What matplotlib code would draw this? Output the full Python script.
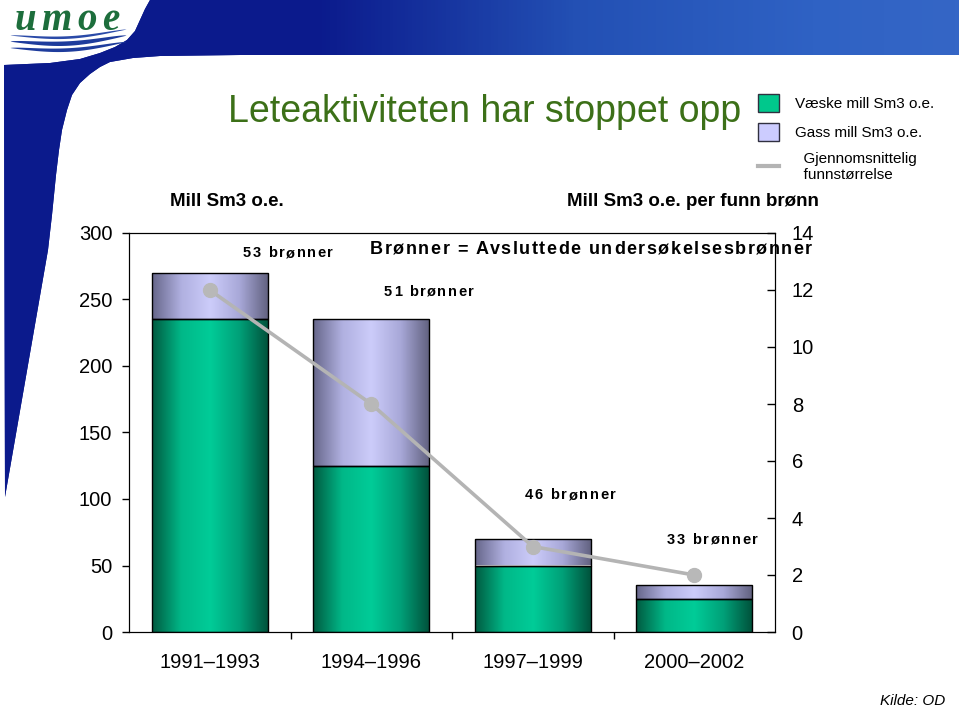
import numpy as np
import matplotlib
matplotlib.use('Agg')
import matplotlib.pyplot as plt
from matplotlib import font_manager
from matplotlib.colors import LinearSegmentedColormap
from matplotlib.patches import Polygon, Patch
from matplotlib.lines import Line2D

# data
periods = ['1991\u20131993', '1994\u20131996', '1997\u20131999', '2000\u20132002']
liquid = [235, 125, 50, 25]      # Væske mill Sm3 o.e.
gas = [35, 110, 20, 10]          # Gass mill Sm3 o.e.
avg_size = [12.0, 8.0, 3.0, 2.0] # mill Sm3 o.e. per funn
wells = [53, 51, 46, 33]

W, H = 959, 708
plt.rcParams['font.family'] = ['Liberation Sans', 'DejaVu Sans']
names = {f.name for f in font_manager.fontManager.ttflist}
if 'Liberation Sans Narrow' in names:
    title_family, title_size = ['Liberation Sans Narrow', 'DejaVu Sans'], 32
else:
    title_family, title_size = ['Liberation Sans', 'DejaVu Sans'], 27

fig = plt.figure(figsize=(W / 100, H / 100), dpi=100)

# background layer in pixel coordinates (y down)
bg = fig.add_axes([0, 0, 1, 1])
bg.set_xlim(0, W)
bg.set_ylim(H, 0)
bg.axis('off')

shape = [(150, 0), (959, 0), (959, 55), (240, 55), (160, 56), (133, 58), (110, 62),
         (100, 67), (90, 74), (80, 83), (72, 95), (67, 110), (62, 130), (59, 150),
         (56, 175), (52, 215), (48, 250), (5, 497), (4, 65), (50, 63), (80, 59),
         (100, 53), (115, 47), (127, 40), (135, 31), (140, 20), (145, 9)]
poly = Polygon(shape, closed=True, facecolor='#0b1a8c', edgecolor='none')
bg.add_patch(poly)
banner_cmap = LinearSegmentedColormap.from_list(
    'banner', [(0, '#0b1a8c'), (0.33, '#0b1a8c'), (0.6, '#2350b4'), (0.85, '#2f62c4'), (1, '#3566c6')])
im = bg.imshow(np.linspace(0, 1, 256)[None, :], cmap=banner_cmap, extent=[0, W, 500, 0],
               aspect='auto', zorder=1)
im.set_clip_path(poly)
bg.set_xlim(0, W)
bg.set_ylim(H, 0)

# logo waves
xs = np.linspace(10, 126, 90)
t = (xs - 10) / 116
for y0, th, col in [(35, 2.6, '#2a4aa8'), (41, 4.5, '#1e3c9c'), (47.5, 3.6, '#1e3c9c')]:
    mid = y0 + 5 * np.sin(np.pi * t) ** 1.2 - 6 * t
    thick = th * np.sin(np.pi * t) ** 0.6
    bg.fill_between(xs, mid - thick / 2, mid + thick / 2, color=col, lw=0, zorder=2)


def spaced(x, y, s, width, va='center', **kw):
    r = fig.canvas.get_renderer()
    prop = font_manager.FontProperties(family=kw.get('family', plt.rcParams['font.family']),
                                       size=kw.get('fontsize', 10), weight=kw.get('fontweight', 'normal'),
                                       style=kw.get('fontstyle', 'normal'))
    bar_w = r.get_text_width_height_descent('|', prop, ismath=False)[0]
    pos = [r.get_text_width_height_descent(s[:i] + '|', prop, ismath=False)[0] - bar_w if i else 0
           for i in range(len(s) + 1)]
    gap = (width - pos[-1]) / (len(s) - 1)
    for i, ch in enumerate(s):
        if ch != ' ':
            bg.text(x + pos[i] + i * gap, y, ch, va=va, ha='left', **kw)


spaced(15, 30, 'umoe', 104, va='baseline', family=['Liberation Serif', 'DejaVu Serif'], fontsize=28,
       fontstyle='italic', fontweight='bold', color='#1d6e3c', zorder=3)

bg.text(228, 112, 'Leteaktiviteten har stoppet opp', family=title_family, fontsize=title_size,
        color='#3c7018', va='center', ha='left')
bg.text(170, 201, 'Mill Sm3 o.e.', fontsize=13.5, fontweight='bold', va='center')
bg.text(567, 201, 'Mill Sm3 o.e. per funn brønn', fontsize=13.5, fontweight='bold', va='center')
spaced(370, 250, 'Brønner = Avsluttede undersøkelsesbrønner', 442, fontsize=13, fontweight='bold')
spaced(243, 253, f'{wells[0]} brønner', 90, fontsize=10.5, fontweight='bold')
spaced(384, 292, f'{wells[1]} brønner', 90, fontsize=10.5, fontweight='bold')
spaced(525, 495, f'{wells[2]} brønner', 91, fontsize=10.5, fontweight='bold')
spaced(667, 540, f'{wells[3]} brønner', 91, fontsize=10.5, fontweight='bold')
bg.text(880, 701, 'Kilde: OD', fontsize=11, fontstyle='italic', va='center')

# main chart
ax = fig.add_axes([129 / W, (H - 632) / H, (775 - 129) / W, (632 - 233) / H])
ax.set_zorder(1)
ax.set_facecolor('none')
x = np.arange(len(periods))
b1 = ax.bar(x, liquid, width=0.72, facecolor='none', edgecolor='black', lw=1, zorder=3)
b2 = ax.bar(x, gas, bottom=liquid, width=0.72, facecolor='none', edgecolor='black', lw=1, zorder=3)

green = LinearSegmentedColormap.from_list('g', ['#005a40', '#00b888', '#00cc98', '#00a078', '#00503a'])
lav = LinearSegmentedColormap.from_list('l', ['#66668a', '#b0b0e0', '#ccccfa', '#a8a8d8', '#60607e'])
grad = np.linspace(0, 1, 256)[None, :]
for bars, cm in ((b1, green), (b2, lav)):
    for p in bars:
        x0, y0 = p.get_x(), p.get_y()
        gi = ax.imshow(grad, cmap=cm, extent=[x0, x0 + p.get_width(), y0, y0 + p.get_height()],
                       aspect='auto', zorder=2, interpolation='bilinear')
        gi.set_clip_path(p)

ax.set_xlim(-0.5, len(periods) - 0.5)
ax.set_ylim(0, 300)
ax.set_yticks(np.arange(0, 301, 50))
ax.set_xticks(x[:-1] + 0.5)
ax.set_xticklabels([])
ax.set_xticks(x, minor=True)
ax.set_xticklabels(periods, minor=True)
ax.tick_params(axis='x', which='major', length=5, width=1, direction='out')
ax.tick_params(axis='x', which='minor', length=0, pad=15, labelsize=14.5)
ax.tick_params(axis='y', length=5, width=1, direction='out', pad=7, labelsize=14.5)

ax2 = ax.twinx()
ax2.set_zorder(2)
ax2.plot(x, avg_size, color='#b4b4b4', lw=2.6, marker='o', ms=10, mfc='#b8b8b8',
         mec='#b8b8b8', zorder=5)
ax2.set_ylim(0, 14)
ax2.set_yticks(np.arange(0, 15, 2))
ax2.tick_params(axis='y', length=6, width=1, direction='in', pad=12, labelsize=14.5)

# legend
handles = [Patch(facecolor='#00c88c', edgecolor='#303040', lw=1),
           Patch(facecolor='#ccccff', edgecolor='#303040', lw=1),
           Line2D([], [], color='#b4b4b4', lw=3)]
labels = ['Væske mill Sm3 o.e.', 'Gass mill Sm3 o.e.', '  Gjennomsnittelig\n  funnstørrelse']
leg = bg.legend(handles, labels, loc='upper left', bbox_to_anchor=(758, 94), bbox_transform=bg.transData,
                frameon=False, fontsize=11, handlelength=1.35, handleheight=1.45, handletextpad=1.1,
                labelspacing=0.72, borderpad=0, borderaxespad=0)
leg.get_texts()[2].set_linespacing(1.2)

fig.savefig('out.png', dpi=100)
